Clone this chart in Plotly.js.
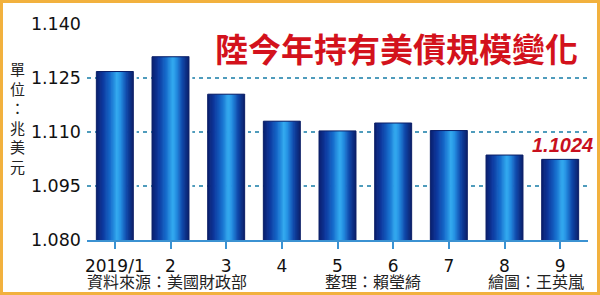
<!DOCTYPE html>
<html>
<head>
<meta charset="utf-8">
<script src="https://cdn.plot.ly/plotly-3.0.1.min.js"></script>
<style>
html,body{margin:0;padding:0;background:#fff;}
#frame{position:absolute;left:0;top:0;width:594px;height:289px;border:3px solid #f2b13e;background:#fff;}
#chart{width:594px;height:289px;}
</style>
</head>
<body>
<div id="frame"><div id="chart"></div></div>
<script>
var categories = ['2019/1','2','3','4','5','6','7','8','9'];
var values = [1.1268, 1.1309, 1.1205, 1.1130, 1.1103, 1.1125, 1.1104, 1.1036, 1.1024];
var yTicks = [1.080, 1.095, 1.110, 1.125, 1.140];
var titleText = '陸今年持有美債規模變化';
var unitText = '單<br>位<br>：<br>兆<br>美<br>元';
var credits = ['資料來源：美國財政部', '整理：賴瑩綺', '繪圖：王英嵐'];
var highlightLabel = '1.1024';

// gradient stops across bar width (left -> right)
var stops = [[0,[10,30,110]],[0.18,[14,58,160]],[0.38,[22,108,204]],[0.56,[52,172,240]],[0.66,[36,142,226]],[0.82,[16,72,170]],[1,[10,30,105]]];
function colorAt(t){
  for (var i=0;i<stops.length-1;i++){
    var a=stops[i], b=stops[i+1];
    if (t>=a[0] && t<=b[0]){
      var f=(t-a[0])/(b[0]-a[0]);
      var c=a[1].map(function(v,k){return Math.round(v+(b[1][k]-v)*f);});
      return 'rgb('+c.join(',')+')';
    }
  }
  return 'rgb(10,30,105)';
}
var W = 0.664, N = 30;
var traces = [];
for (var i=0;i<N;i++){
  var t=(i+0.5)/N;
  var sw = W/N;
  traces.push({
    type:'bar', x:categories, y:values,
    width: sw*1.6, offset: -W/2 + i*sw,
    marker:{color:colorAt(t), line:{width:0}},
    hoverinfo:'skip', showlegend:false
  });
}
traces.push({
  type:'bar', x:categories, y:values, width:0.06, offset:W/2,
  marker:{color:'#ffffff', line:{width:0}},
  hoverinfo:'skip', showlegend:false
});
traces.push({
  type:'bar', x:categories, y:values, width:W, offset:-W/2,
  marker:{color:'rgba(0,0,0,0)', line:{width:1, color:'#0a1e66'}},
  hoverinfo:'skip', showlegend:false
});

var L=84, R=9, T=21, B=52, PW=594-L-R, PH=289-T-B;
function px(x){return (x-3-L)/PW;}
function py(y){return 1-(y-3-T)/PH;}

var layout = {
  width:594, height:289,
  margin:{l:L, r:R, t:T, b:B, pad:0},
  paper_bgcolor:'#fff', plot_bgcolor:'#fff',
  barmode:'overlay',
  xaxis:{type:'category', categoryorder:'array', categoryarray:categories,
    range:[-0.5,8.5], showgrid:false, zeroline:false,
    showline:true, linecolor:'#3b92d2', linewidth:2,
    ticks:'outside', ticklen:7, tickwidth:2, tickcolor:'#3b92d2',
    ticklabelstandoff:3,
    tickfont:{family:'DejaVu Sans', size:17, color:'#111'}, fixedrange:true},
  yaxis:{range:[1.080,1.140], tickvals:yTicks, tickformat:'.3f',
    showgrid:true, gridcolor:'#4f9cbc', gridwidth:1.3, griddash:'4px,4px',
    zeroline:false, showline:false, ticks:'', ticklabelstandoff:5,
    tickfont:{family:'DejaVu Sans', size:17.5, color:'#111'}, fixedrange:true},
  annotations:[
    {text:'<b>'+titleText+'</b>', xref:'paper', yref:'paper', x:px(396.5), y:py(48),
     xanchor:'center', yanchor:'middle', showarrow:false,
     font:{family:'Noto Sans CJK TC', size:33, color:'#d3121c'}},
    {text:unitText, xref:'paper', yref:'paper', x:px(17), y:py(118),
     xanchor:'center', yanchor:'middle', showarrow:false, align:'center',
     font:{family:'Noto Sans CJK TC', size:15, color:'#222'}},
    {text:credits[0], xref:'paper', yref:'paper', x:px(85), y:py(281),
     xanchor:'left', yanchor:'middle', showarrow:false,
     font:{family:'Noto Sans CJK TC', size:16, color:'#222'}},
    {text:credits[1], xref:'paper', yref:'paper', x:px(323), y:py(281),
     xanchor:'left', yanchor:'middle', showarrow:false,
     font:{family:'Noto Sans CJK TC', size:16, color:'#222'}},
    {text:credits[2], xref:'paper', yref:'paper', x:px(586), y:py(281),
     xanchor:'right', yanchor:'middle', showarrow:false,
     font:{family:'Noto Sans CJK TC', size:16, color:'#222'}},
    {text:'<b><i>'+highlightLabel+'</i></b>', xref:'x', yref:'y',
     x:categories.length-1, y:values[values.length-1],
     xanchor:'center', yanchor:'bottom', yshift:1, xshift:2, showarrow:false,
     font:{family:'Liberation Sans', size:20, color:'#c8101e'}}
  ]
};
Plotly.newPlot('chart', traces, layout, {displayModeBar:false, staticPlot:true});
</script>
</body>
</html>
